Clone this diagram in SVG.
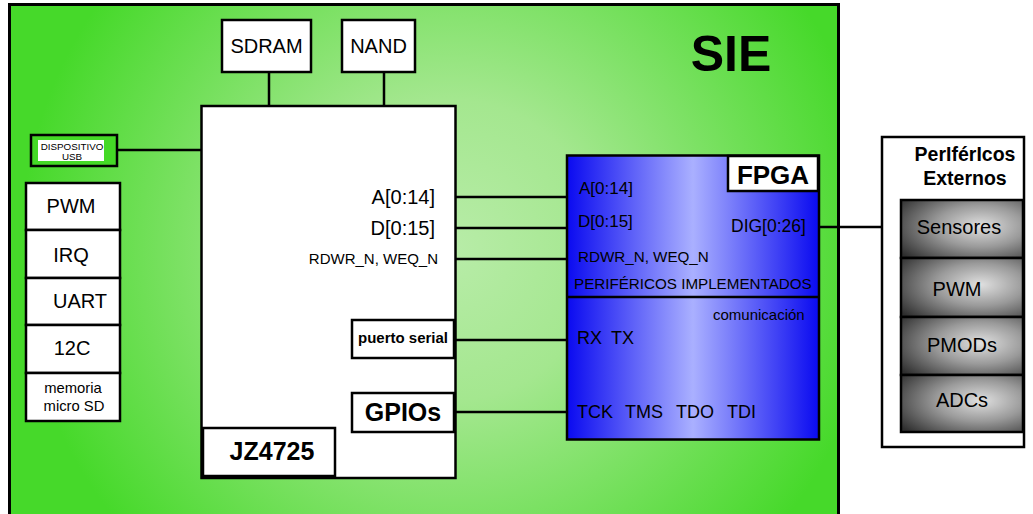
<svg xmlns="http://www.w3.org/2000/svg" width="1033" height="514" viewBox="0 0 1033 514">
<defs>
<radialGradient id="gGreen" cx="450" cy="250" r="430" gradientUnits="userSpaceOnUse">
<stop offset="0" stop-color="#b8eca8"/>
<stop offset="0.35" stop-color="#a4e78f"/>
<stop offset="1" stop-color="#46d92a"/>
</radialGradient>
<linearGradient id="gBlue" x1="0" y1="0" x2="1" y2="0">
<stop offset="0" stop-color="#0a0af0"/>
<stop offset="0.5" stop-color="#aab0ff"/>
<stop offset="1" stop-color="#0a0af0"/>
</linearGradient>
<radialGradient id="gGray" cx="0.65" cy="0.45" r="0.8">
<stop offset="0" stop-color="#e0e0e0"/>
<stop offset="0.45" stop-color="#9a9a9a"/>
<stop offset="1" stop-color="#2e2e2e"/>
</radialGradient>
</defs>
<style>
.box{fill:#fff;stroke:#000;stroke-width:2.5}
.ln{stroke:#000;stroke-width:2.5;fill:none}
.t{font-family:"Liberation Sans",Arial,sans-serif;fill:#000}
.b{font-weight:bold}
.gray{fill:url(#gGray);stroke:#000;stroke-width:2.5}
</style>
<rect x="9.5" y="4.5" width="829" height="515" fill="url(#gGreen)" stroke="#000" stroke-width="3"/>
<text class="t b" x="731" y="71" font-size="50" text-anchor="middle">SIE</text>

<g id="connectors">
<line class="ln" x1="269" y1="72" x2="269" y2="106"/>
<line class="ln" x1="384" y1="72" x2="384" y2="106"/>
<line class="ln" x1="117" y1="150" x2="201" y2="150"/>
<line class="ln" x1="455" y1="197" x2="567" y2="197"/>
<line class="ln" x1="455" y1="228" x2="567" y2="228"/>
<line class="ln" x1="455" y1="259" x2="567" y2="259"/>
<line class="ln" x1="455" y1="340" x2="567" y2="340"/>
<line class="ln" x1="455" y1="412" x2="567" y2="412"/>
<line class="ln" x1="819" y1="227" x2="901" y2="227"/>
<polyline class="ln" points="891,227 891,404 901,404"/>
<line class="ln" x1="891" y1="289" x2="901" y2="289"/>
<line class="ln" x1="891" y1="347" x2="901" y2="347"/>
</g>

<g id="sdram"><rect class="box" x="222" y="20" width="89" height="52"/><text class="t" x="266.5" y="53" font-size="20" text-anchor="middle">SDRAM</text></g>
<g id="nand"><rect class="box" x="342" y="20" width="73" height="52"/><text class="t" x="378.5" y="53" font-size="20" text-anchor="middle">NAND</text></g>

<g id="usb"><rect x="31" y="135" width="86" height="31" fill="#44d926" stroke="#000" stroke-width="2.5"/><rect x="38" y="140" width="66" height="21" fill="#fff"/>
<text class="t" x="72" y="150" font-size="9.8" text-anchor="middle">DISPOSITIVO</text><text class="t" x="72" y="160" font-size="9.8" text-anchor="middle">USB</text></g>

<g id="pwm"><rect class="box" x="26" y="183" width="94" height="47"/><text class="t" x="71" y="213" font-size="20" text-anchor="middle">PWM</text></g>
<g id="irq"><rect class="box" x="26" y="230" width="94" height="48"/><text class="t" x="71" y="262" font-size="20" text-anchor="middle">IRQ</text></g>
<g id="uart"><rect class="box" x="26" y="278" width="94" height="47"/><text class="t" x="80" y="308" font-size="20" text-anchor="middle">UART</text></g>
<g id="i2c"><rect class="box" x="26" y="325" width="94" height="48"/><text class="t" x="72" y="355" font-size="20" text-anchor="middle">12C</text></g>
<g id="sd"><rect class="box" x="26" y="373" width="94" height="48"/><text class="t" x="73" y="393" font-size="14.8" text-anchor="middle">memoria</text><text class="t" x="74" y="411" font-size="14.8" text-anchor="middle">micro SD</text></g>

<g id="jz4725">
<rect class="box" x="201.5" y="106" width="254" height="372"/>
<text class="t" x="435" y="204" font-size="20" text-anchor="end">A[0:14]</text>
<text class="t" x="435" y="235" font-size="20" text-anchor="end">D[0:15]</text>
<text class="t" x="438" y="264" font-size="15" text-anchor="end">RDWR_N, WEQ_N</text>
<rect class="box" x="203" y="428" width="132" height="48"/>
<text class="t b" x="272" y="460" font-size="25" text-anchor="middle">JZ4725</text>
</g>
<g id="puerto"><rect class="box" x="352" y="320" width="102" height="38"/><text class="t b" x="403" y="343" font-size="15" text-anchor="middle">puerto serial</text></g>
<g id="gpios"><rect class="box" x="352" y="393" width="102" height="39"/><text class="t b" x="403" y="421" font-size="25" text-anchor="middle">GPIOs</text></g>

<g id="fpga">
<rect x="567" y="155.5" width="252" height="284" fill="url(#gBlue)" stroke="#000" stroke-width="2.5"/>
<line class="ln" x1="567" y1="297" x2="819" y2="297"/>
<rect class="box" x="728" y="156" width="90" height="35"/>
<text class="t b" x="773" y="184" font-size="26" text-anchor="middle">FPGA</text>
<text class="t" x="579" y="194" font-size="17">A[0:14]</text>
<text class="t" x="578" y="227" font-size="17">D[0:15]</text>
<text class="t" x="731" y="232" font-size="17.5">DIG[0:26]</text>
<text class="t" x="578" y="262" font-size="15.2">RDWR_N, WEQ_N</text>
<text class="t" x="574" y="289" font-size="15.2">PERIFÉRICOS IMPLEMENTADOS</text>
<text class="t" x="713" y="320" font-size="15">comunicación</text>
<text class="t" x="577" y="344" font-size="18">RX</text>
<text class="t" x="611" y="344" font-size="18">TX</text>
<text class="t" x="577" y="418" font-size="18">TCK</text>
<text class="t" x="625" y="418" font-size="18">TMS</text>
<text class="t" x="676" y="418" font-size="18">TDO</text>
<text class="t" x="727" y="418" font-size="18">TDI</text>
</g>

<g id="perifericos">
<rect class="box" x="882" y="137" width="142" height="310"/>
<text class="t b" x="965" y="161" font-size="19.5" text-anchor="middle">PerIférIcos</text>
<text class="t b" x="965" y="185" font-size="19.5" text-anchor="middle">Externos</text>
</g>
<g id="sensores"><rect class="gray" x="901" y="200" width="122" height="58"/><text class="t" x="959" y="234" font-size="20" text-anchor="middle">Sensores</text></g>
<g id="pwm2"><rect class="gray" x="901" y="258" width="122" height="59"/><text class="t" x="957" y="296" font-size="20" text-anchor="middle">PWM</text></g>
<g id="pmods"><rect class="gray" x="901" y="317" width="122" height="58"/><text class="t" x="962" y="352" font-size="20" text-anchor="middle">PMODs</text></g>
<g id="adcs"><rect class="gray" x="901" y="375" width="122" height="57"/><text class="t" x="962" y="407" font-size="20" text-anchor="middle">ADCs</text></g>
</svg>
